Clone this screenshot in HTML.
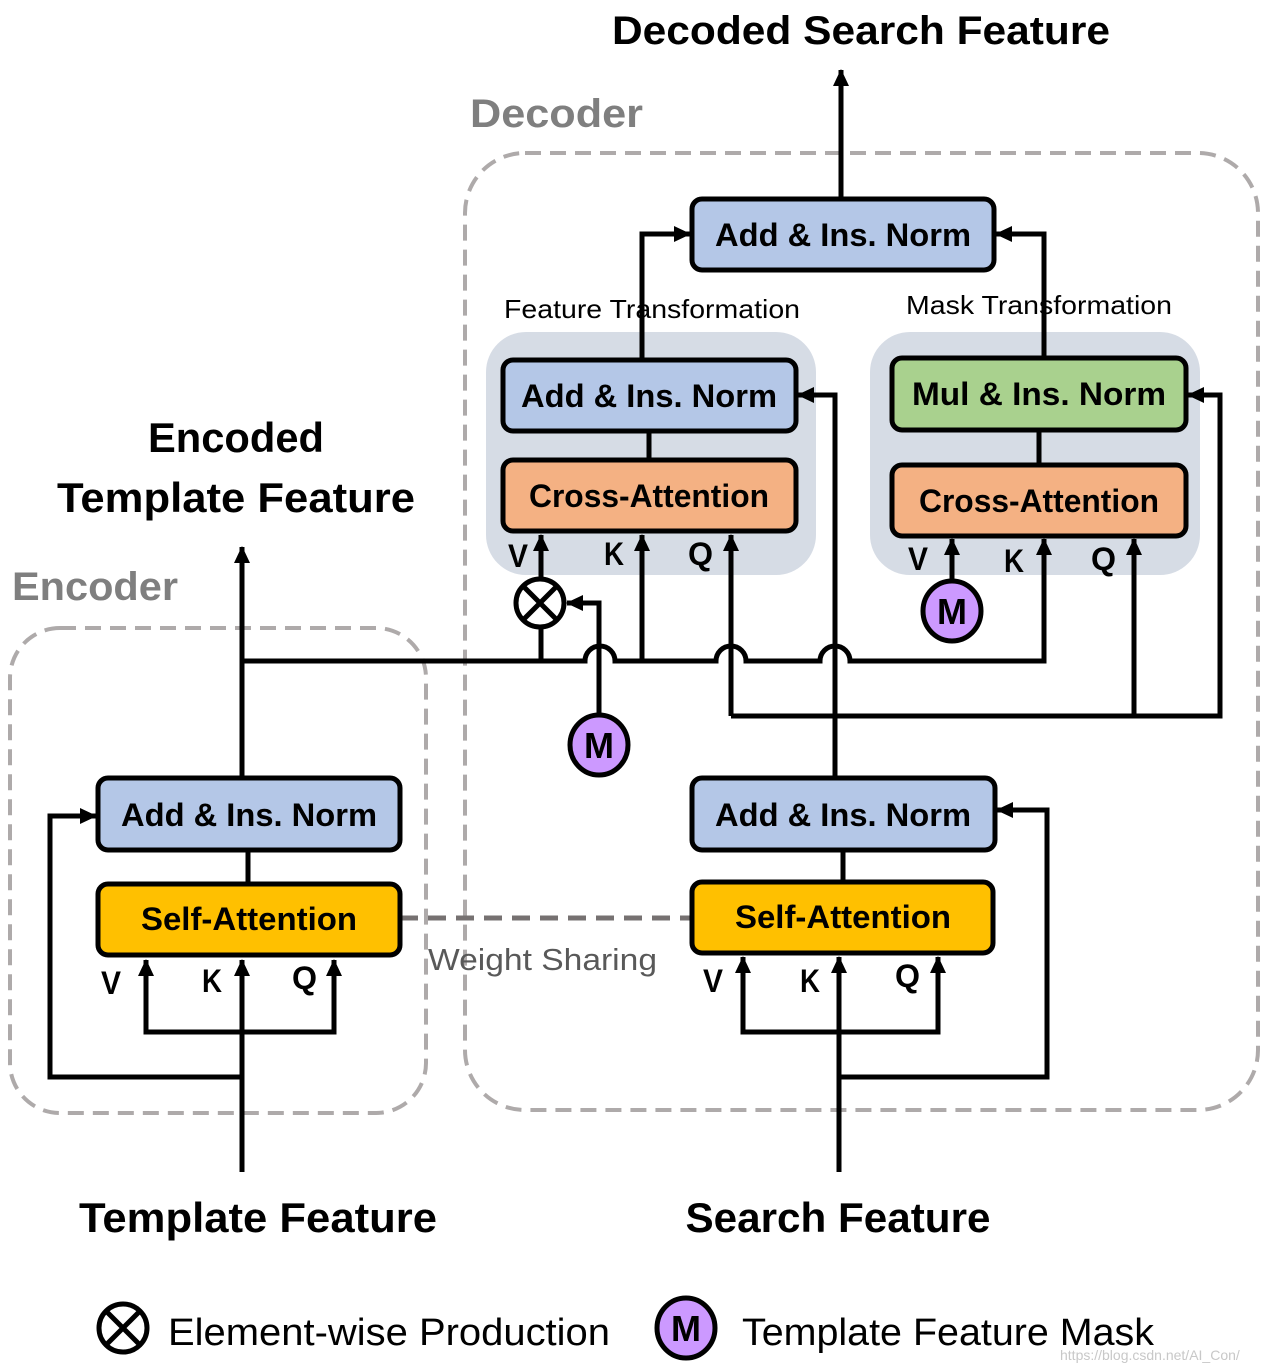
<!DOCTYPE html>
<html><head><meta charset="utf-8"><style>
html,body{margin:0;padding:0;background:#fff;}
svg{display:block;}
text{font-family:"Liberation Sans",sans-serif;}
.b{font-weight:bold;}
</style></head><body>
<svg width="1272" height="1372" viewBox="0 0 1272 1372" xmlns="http://www.w3.org/2000/svg">
<defs>
<marker id="a" markerUnits="userSpaceOnUse" markerWidth="18" markerHeight="18" refX="16" refY="8" orient="auto">
<path d="M0,0 L17,8 L0,16 Z" fill="#000"/>
</marker>
</defs>
<rect x="465" y="153" width="793" height="957" rx="60" fill="none" stroke="#aeaaaa" stroke-width="4" stroke-dasharray="16,9"/>
<rect x="10" y="628" width="416" height="485" rx="50" fill="none" stroke="#aeaaaa" stroke-width="4" stroke-dasharray="16,9"/>
<rect x="486" y="332" width="330" height="243" rx="40" fill="#d6dce5"/>
<rect x="870" y="332" width="330" height="243" rx="40" fill="#d6dce5"/>

<text x="861" y="44" class="b" font-size="40" text-anchor="middle" textLength="498" lengthAdjust="spacingAndGlyphs">Decoded Search Feature</text>
<text x="470" y="127" class="b" font-size="40" fill="#7f7f7f" textLength="173" lengthAdjust="spacingAndGlyphs">Decoder</text>
<text x="12" y="600" class="b" font-size="40" fill="#7f7f7f" textLength="166" lengthAdjust="spacingAndGlyphs">Encoder</text>
<text x="236" y="452" class="b" font-size="42" text-anchor="middle" textLength="176" lengthAdjust="spacingAndGlyphs">Encoded</text>
<text x="236" y="512" class="b" font-size="42" text-anchor="middle" textLength="358" lengthAdjust="spacingAndGlyphs">Template Feature</text>
<text x="504" y="318" font-size="26" textLength="296" lengthAdjust="spacingAndGlyphs">Feature Transformation</text>
<text x="906" y="314" font-size="26" textLength="266" lengthAdjust="spacingAndGlyphs">Mask Transformation</text>
<text x="428" y="970" font-size="31" fill="#595959" textLength="229" lengthAdjust="spacingAndGlyphs">Weight Sharing</text>
<text x="258" y="1232" class="b" font-size="42" text-anchor="middle" textLength="358" lengthAdjust="spacingAndGlyphs">Template Feature</text>
<text x="838" y="1232" class="b" font-size="42" text-anchor="middle" textLength="305" lengthAdjust="spacingAndGlyphs">Search Feature</text>
<text x="168" y="1345" font-size="38" textLength="442" lengthAdjust="spacingAndGlyphs">Element-wise Production</text>
<text x="742" y="1345" font-size="38" textLength="412" lengthAdjust="spacingAndGlyphs">Template Feature Mask</text>
<text x="1060" y="1360" font-size="14" fill="#c8c8c8">https://blog.csdn.net/AI_Con/</text>

<g class="b" font-size="32">
<text x="508" y="567" textLength="20" lengthAdjust="spacingAndGlyphs">V</text><text x="604" y="565" textLength="20" lengthAdjust="spacingAndGlyphs">K</text><text x="688" y="565" textLength="25" lengthAdjust="spacingAndGlyphs">Q</text>
<text x="908" y="570" textLength="20" lengthAdjust="spacingAndGlyphs">V</text><text x="1004" y="572" textLength="20" lengthAdjust="spacingAndGlyphs">K</text><text x="1091" y="570" textLength="25" lengthAdjust="spacingAndGlyphs">Q</text>
<text x="101" y="994" textLength="20" lengthAdjust="spacingAndGlyphs">V</text><text x="202" y="992" textLength="20" lengthAdjust="spacingAndGlyphs">K</text><text x="292" y="989" textLength="25" lengthAdjust="spacingAndGlyphs">Q</text>
<text x="703" y="992" textLength="20" lengthAdjust="spacingAndGlyphs">V</text><text x="800" y="992" textLength="20" lengthAdjust="spacingAndGlyphs">K</text><text x="895" y="987" textLength="25" lengthAdjust="spacingAndGlyphs">Q</text>
</g>

<g fill="none" stroke="#000" stroke-width="5">
<path d="M841 199 V70" marker-end="url(#a)"/>
<path d="M642 360 V234 H690" marker-end="url(#a)"/>
<path d="M1044 358 V234 H996" marker-end="url(#a)"/>
<path d="M649 431 V460"/>
<path d="M1039 430 V465"/>
<path d="M541 578 V535" marker-end="url(#a)"/>
<path d="M541 628 V661"/>
<path d="M642 661 V535" marker-end="url(#a)"/>
<path d="M731 716 V535" marker-end="url(#a)"/>
<path d="M242 661 H585 A15 15 0 0 1 615 661 H716 A15 15 0 0 1 746 661 H820 A15 15 0 0 1 850 661 H1044 V539" marker-end="url(#a)"/>
<path d="M952 581 V539" marker-end="url(#a)"/>
<path d="M1134 716 V539" marker-end="url(#a)"/>
<path d="M731 716 H1220 V395 H1188" marker-end="url(#a)"/>
<path d="M835 778 V395 H798" marker-end="url(#a)"/>
<path d="M599 715 V603 H567" marker-end="url(#a)"/>
<path d="M242 778 V547" marker-end="url(#a)"/>
<path d="M248 850 V884"/>
<path d="M843 850 V882"/>
<path d="M242 1172 V960" marker-end="url(#a)"/>
<path d="M242 1032 H146 V960" marker-end="url(#a)"/>
<path d="M242 1032 H334 V960" marker-end="url(#a)"/>
<path d="M242 1077 H50 V816 H96" marker-end="url(#a)"/>
<path d="M839 1172 V957" marker-end="url(#a)"/>
<path d="M839 1032 H743 V957" marker-end="url(#a)"/>
<path d="M839 1032 H938 V957" marker-end="url(#a)"/>
<path d="M839 1077 H1047 V810 H997" marker-end="url(#a)"/>
</g>
<path d="M400 918 H692" stroke="#767171" stroke-width="5" stroke-dasharray="18,10" fill="none"/>

<g stroke="#000" stroke-width="5">
<rect x="692" y="199" width="302" height="71" rx="10" fill="#b4c7e7"/>
<rect x="503" y="360" width="293" height="71" rx="10" fill="#b4c7e7"/>
<rect x="503" y="460" width="293" height="71" rx="10" fill="#f4b183"/>
<rect x="892" y="358" width="294" height="72" rx="10" fill="#a9d18e"/>
<rect x="892" y="465" width="294" height="71" rx="10" fill="#f4b183"/>
<rect x="98" y="778" width="302" height="72" rx="10" fill="#b4c7e7"/>
<rect x="98" y="884" width="302" height="71" rx="10" fill="#ffc000"/>
<rect x="692" y="778" width="303" height="72" rx="10" fill="#b4c7e7"/>
<rect x="692" y="882" width="301" height="71" rx="10" fill="#ffc000"/>
</g>
<g class="b" font-size="32" text-anchor="middle">
<text x="843" y="246" textLength="256" lengthAdjust="spacingAndGlyphs">Add &amp; Ins. Norm</text>
<text x="649" y="407" textLength="256" lengthAdjust="spacingAndGlyphs">Add &amp; Ins. Norm</text>
<text x="649" y="507" textLength="240" lengthAdjust="spacingAndGlyphs">Cross-Attention</text>
<text x="1039" y="405" textLength="254" lengthAdjust="spacingAndGlyphs">Mul &amp; Ins. Norm</text>
<text x="1039" y="512" textLength="240" lengthAdjust="spacingAndGlyphs">Cross-Attention</text>
<text x="249" y="826" textLength="256" lengthAdjust="spacingAndGlyphs">Add &amp; Ins. Norm</text>
<text x="249" y="930" textLength="216" lengthAdjust="spacingAndGlyphs">Self-Attention</text>
<text x="843" y="826" textLength="256" lengthAdjust="spacingAndGlyphs">Add &amp; Ins. Norm</text>
<text x="843" y="928" textLength="216" lengthAdjust="spacingAndGlyphs">Self-Attention</text>
</g>

<g stroke="#000" stroke-width="5">
<circle cx="540" cy="603" r="24" fill="#fff"/>
<path d="M523 586 L557 620 M557 586 L523 620"/>
<circle cx="123" cy="1328" r="24" fill="#fff"/>
<path d="M106 1311 L140 1345 M140 1311 L106 1345"/>
<ellipse cx="599" cy="745" rx="29" ry="30" fill="#cc99ff"/>
<ellipse cx="952" cy="611" rx="29" ry="30" fill="#cc99ff"/>
<ellipse cx="686" cy="1328" rx="29" ry="30" fill="#cc99ff"/>
</g>
<g class="b" font-size="36" text-anchor="middle">
<text x="599" y="758">M</text><text x="952" y="624">M</text><text x="686" y="1341">M</text>
</g>
</svg>
</body></html>
